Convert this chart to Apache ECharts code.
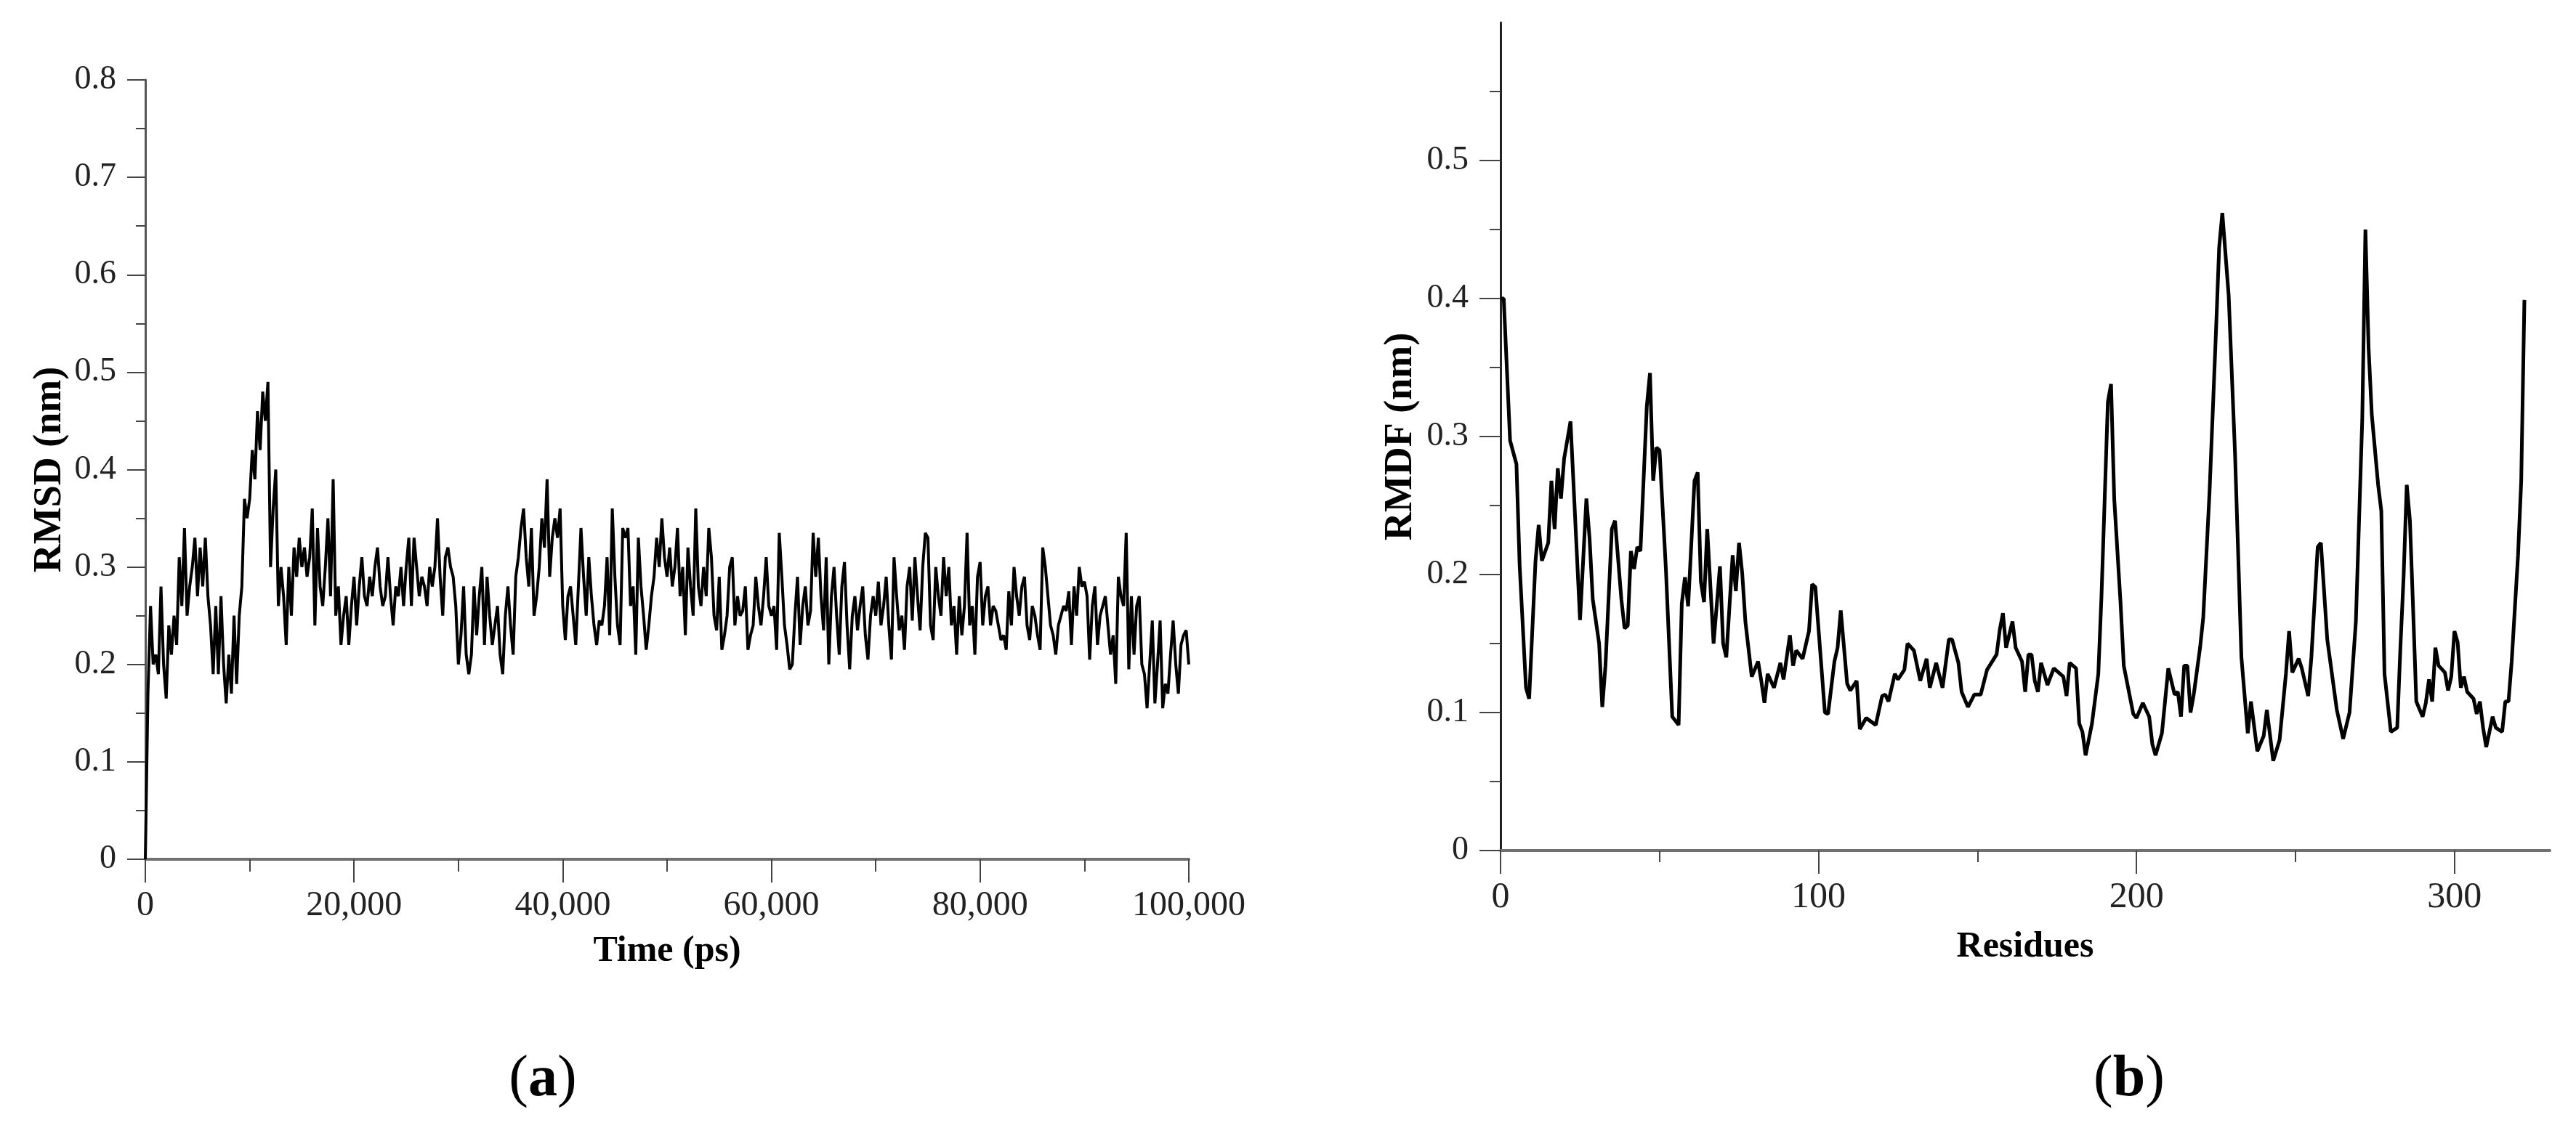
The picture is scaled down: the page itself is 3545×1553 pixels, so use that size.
<!DOCTYPE html>
<html><head><meta charset="utf-8">
<script src="https://cdn.jsdelivr.net/npm/echarts@6/dist/echarts.min.js"></script>
<style>html,body{margin:0;padding:0;background:#fff}#c{width:3545px;height:1553px}</style>
</head><body><div id="c"></div>
<script>
// ---- Panel (a): RMSD vs time, one value every 250 ps from 0 to 100,000 ps ----
const rmsdStepPs = 250;
const rmsdValues = [
0,0.17,0.26,0.20, 0.21,0.19,0.28,0.20, 0.165,0.24,0.21,0.25, 0.22,0.31,0.26,0.34,
0.25,0.28,0.30,0.33, 0.27,0.32,0.28,0.33, 0.27,0.24,0.19,0.26, 0.19,0.27,0.20,0.16,
0.21,0.17,0.25,0.18, 0.25,0.28,0.37,0.35, 0.37,0.42,0.39,0.46, 0.42,0.48,0.45,0.49,
0.30,0.36,0.40,0.26, 0.30,0.27,0.22,0.30, 0.25,0.32,0.29,0.33, 0.30,0.32,0.29,0.31,
0.36,0.24,0.34,0.28, 0.26,0.30,0.35,0.27, 0.39,0.25,0.28,0.22, 0.25,0.27,0.22,0.26,
0.29,0.24,0.28,0.31, 0.27,0.26,0.29,0.27, 0.30,0.32,0.28,0.26, 0.27,0.31,0.27,0.24,
0.28,0.27,0.30,0.26, 0.30,0.33,0.26,0.33, 0.30,0.27,0.29,0.28, 0.26,0.30,0.28,0.30,
0.35,0.29,0.25,0.31, 0.32,0.30,0.29,0.26, 0.20,0.23,0.28,0.21, 0.19,0.21,0.28,0.23,
0.27,0.30,0.22,0.29, 0.25,0.22,0.24,0.26, 0.21,0.19,0.25,0.28, 0.24,0.21,0.29,0.31,
0.34,0.36,0.31,0.28, 0.34,0.25,0.27,0.30, 0.35,0.32,0.39,0.29, 0.33,0.35,0.33,0.36,
0.26,0.225,0.27,0.28, 0.25,0.22,0.28,0.34, 0.29,0.25,0.31,0.27, 0.24,0.22,0.245,0.24,
0.26,0.31,0.23,0.36, 0.29,0.24,0.22,0.34, 0.33,0.34,0.26,0.28, 0.21,0.33,0.28,0.25,
0.215,0.24,0.27,0.29, 0.33,0.30,0.35,0.31, 0.29,0.32,0.28,0.30, 0.34,0.27,0.30,0.23,
0.32,0.28,0.25,0.36, 0.28,0.26,0.30,0.27, 0.34,0.31,0.25,0.235, 0.29,0.215,0.23,0.25,
0.30,0.31,0.24,0.27, 0.25,0.255,0.28,0.215, 0.23,0.24,0.29,0.26, 0.24,0.27,0.31,0.26,
0.25,0.26,0.215,0.335, 0.29,0.24,0.22,0.195, 0.20,0.25,0.29,0.22, 0.26,0.28,0.24,0.255,
0.335,0.29,0.33,0.27, 0.235,0.31,0.20,0.27, 0.30,0.25,0.21,0.28, 0.305,0.24,0.195,0.25,
0.27,0.235,0.26,0.28, 0.23,0.205,0.25,0.27, 0.25,0.285,0.24,0.26, 0.29,0.24,0.205,0.31,
0.27,0.235,0.25,0.215, 0.28,0.30,0.245,0.31, 0.27,0.235,0.30,0.335, 0.33,0.24,0.225,0.30,
0.27,0.25,0.31,0.27, 0.30,0.24,0.26,0.21, 0.27,0.23,0.26,0.335, 0.24,0.26,0.21,0.29,
0.305,0.24,0.27,0.28, 0.24,0.26,0.255,0.24, 0.225,0.23,0.215,0.275, 0.24,0.30,0.27,0.25,
0.28,0.29,0.24,0.225, 0.26,0.25,0.23,0.215, 0.32,0.30,0.27,0.24, 0.23,0.21,0.24,0.25,
0.26,0.255,0.275,0.22, 0.28,0.25,0.30,0.28, 0.285,0.27,0.205,0.26, 0.28,0.22,0.25,0.26,
0.27,0.24,0.21,0.23, 0.18,0.29,0.27,0.26, 0.335,0.195,0.27,0.21, 0.26,0.27,0.20,0.19,
0.155,0.20,0.245,0.16, 0.20,0.245,0.155,0.18, 0.17,0.21,0.245,0.20, 0.17,0.22,0.23,0.235,
0.20
];
const rmsdXTickLabels = ['0','20,000','40,000','60,000','80,000','100,000'];
const rmsdYTickLabels = ['0','0.1','0.2','0.3','0.4','0.5','0.6','0.7','0.8'];

// ---- Panel (b): RMDF per residue ----
const rmdfResidues = [
0,1,3,5,6,8,9,11,12,13,15,16,17,18,19,20,22,25,27,28,29,31,32,33,35,36,38,39,40,41,42,43,44,
46,47,48,49,50,52,54,56,57,58,59,61,62,63,64,65,67,69,70,71,73,74,75,76,77,79,81,82,83,84,86,
88,89,91,92,93,95,97,98,99,102,103,105,106,107,109,110,112,113,115,118,120,121,122,124,125,127,
128,130,132,134,135,137,139,141,142,144,145,147,149,151,153,156,157,158,159,161,162,164,165,166,
167,168,169,170,172,174,177,178,179,181,182,183,184,186,188,189,191,192,193,195,196,199,200,202,
204,205,206,208,210,212,213,214,215,216,217,218,220,221,223,225,226,227,229,231,233,235,236,238,
240,241,243,245,247,248,249,251,252,254,255,257,258,260,261,263,265,267,269,271,272,273,274,276,
277,278,280,282,283,284,285,286,287,288,290,291,292,293,294,295,297,298,299,300,301,302,303,304,
306,307,308,309,310,312,313,315,316,317,318,320,321,322
];
const rmdfValues = [
0.40,0.40,0.297,0.28,0.207,0.118,0.11,0.21,0.236,0.21,0.223,0.268,0.233,0.277,0.255,0.284,0.311,
0.167,0.255,0.226,0.182,0.15,0.104,0.134,0.233,0.239,0.182,0.161,0.163,0.217,0.204,0.22,0.217,
0.322,0.346,0.268,0.292,0.29,0.204,0.097,0.091,0.179,0.198,0.177,0.268,0.274,0.195,0.18,0.233,
0.15,0.206,0.15,0.14,0.214,0.188,0.223,0.201,0.166,0.126,0.137,0.123,0.107,0.128,0.118,
0.136,0.124,0.156,0.134,0.145,0.139,0.159,0.193,0.191,0.10,0.099,0.137,0.147,0.174,0.121,0.116,
0.123,0.088,0.096,0.091,0.112,0.113,0.108,0.128,0.124,0.131,
0.15,0.145,0.123,0.139,0.118,0.136,0.118,0.153,0.153,0.136,0.115,0.104,0.113,0.113,0.131,0.142,
0.16,0.172,0.147,0.166,0.147,0.137,0.115,0.142,
0.142,0.123,0.115,0.136,0.12,0.132,0.126,0.112,0.136,0.132,0.092,0.086,0.069,0.092,0.128,0.185,
0.325,0.338,0.255,0.179,0.134,0.099,0.096,0.107,
0.097,0.077,0.069,0.085,0.132,0.113,0.115,0.097,0.134,0.134,0.10,0.113,0.147,0.169,0.261,0.376,
0.437,0.462,0.402,0.287,0.14,0.085,0.108,0.072,
0.083,0.102,0.065,0.08,0.128,0.159,0.129,0.139,0.132,0.112,0.14,0.22,0.223,0.153,0.136,0.102,
0.081,0.10,0.166,0.312,0.45,0.364,0.316,0.265,
0.246,0.128,0.086,0.089,0.147,0.198,0.265,0.239,0.175,0.108,0.097,0.107,0.124,0.108,0.147,0.134,
0.129,0.116,0.126,0.159,0.151,0.118,0.126,0.115,
0.11,0.099,0.108,0.089,0.075,0.097,0.089,0.086,0.108,0.108,0.137,0.214,0.268,0.399
];
const rmdfXTickLabels = ['0','100','200','300'];
const rmdfYTickValues = [0,0.1,0.2,0.3,0.4,0.5];

const rmsdData = rmsdValues.map((v, i) => [i * rmsdStepPs, v]);
const rmdfData = rmdfResidues.map((r, i) => [r, rmdfValues[i]]);

const SERIF = '"Liberation Serif","Times New Roman",serif';
const tickLine = {color: '#444', width: 2};
const labelStyle = (size) => ({fontFamily: SERIF, fontSize: size, color: '#222'});
const nameStyle = (size) => ({fontFamily: SERIF, fontSize: size, fontWeight: 'bold', color: '#000'});

const chart = echarts.init(document.getElementById('c'), null, {renderer: 'canvas'});
chart.setOption({
  animation: false,
  backgroundColor: '#fff',
  grid: [
    {left: 200, top: 110, width: 1436, height: 1073, containLabel: false},
    {left: 2065, top: 31, width: 1444, height: 1140, containLabel: false}
  ],
  xAxis: [
    {
      gridIndex: 0, type: 'value', min: 0, max: 100000, interval: 20000,
      axisLine: {lineStyle: {color: '#707070', width: 4}},
      axisTick: {length: 32, lineStyle: tickLine},
      minorTick: {show: true, splitNumber: 2, length: 17, lineStyle: tickLine},
      splitLine: {show: false},
      axisLabel: Object.assign({margin: 40, formatter: (v) => rmsdXTickLabels[Math.round(v / 20000)]}, labelStyle(48)),
      name: 'Time (ps)', nameLocation: 'middle', nameGap: 102, nameTextStyle: nameStyle(50)
    },
    {
      gridIndex: 1, type: 'value', min: 0, max: 330, interval: 100,
      axisLine: {lineStyle: {color: '#707070', width: 4}},
      axisTick: {length: 32, lineStyle: tickLine, customValues: [0, 100, 200, 300]},
      axisLabel: Object.assign({margin: 40, customValues: [0, 100, 200, 300],
        formatter: (v) => rmdfXTickLabels[Math.round(v / 100)]}, labelStyle(50)),
      minorTick: {show: true, splitNumber: 2, length: 16, lineStyle: tickLine},
      splitLine: {show: false},
      name: 'Residues', nameLocation: 'middle', nameGap: 108, nameTextStyle: nameStyle(50)
    }
  ],
  yAxis: [
    {
      gridIndex: 0, type: 'value', min: 0, max: 0.8, interval: 0.1,
      axisLine: {show: true, lineStyle: {color: '#555', width: 3}},
      axisTick: {show: true, length: 25, lineStyle: tickLine},
      minorTick: {show: true, splitNumber: 2, length: 13, lineStyle: tickLine},
      splitLine: {show: false},
      axisLabel: Object.assign({margin: 40, formatter: (v) => rmsdYTickLabels[Math.round(v * 10)]}, labelStyle(46)),
      name: 'RMSD (nm)', nameLocation: 'middle', nameGap: 104, nameTextStyle: nameStyle(54)
    },
    {
      gridIndex: 1, type: 'value', min: 0, max: 0.6, interval: 0.1,
      axisLine: {show: true, lineStyle: {color: '#222', width: 3}},
      axisTick: {show: true, length: 29, lineStyle: tickLine, customValues: rmdfYTickValues},
      minorTick: {show: true, splitNumber: 2, length: 15, lineStyle: tickLine},
      splitLine: {show: false},
      axisLabel: Object.assign({margin: 44, customValues: rmdfYTickValues,
        formatter: (v) => String(Math.round(v * 10) / 10)}, labelStyle(46)),
      name: 'RMDF (nm)', nameLocation: 'middle', nameGap: 110, nameTextStyle: nameStyle(54)
    }
  ],
  series: [
    {type: 'line', xAxisIndex: 0, yAxisIndex: 0, data: rmsdData, showSymbol: false, symbol: 'none',
     lineStyle: {color: '#000', width: 4}, silent: true},
    {type: 'line', xAxisIndex: 1, yAxisIndex: 1, data: rmdfData, showSymbol: false, symbol: 'none',
     lineStyle: {color: '#000', width: 5}, silent: true}
  ],
  graphic: [
    {type: 'text', x: 747, y: 1487, style: {
      text: '{p|(}{b|a}{p|)}', align: 'center', verticalAlign: 'middle',
      rich: {p: {fontFamily: SERIF, fontSize: 80, fill: '#000'}, b: {fontFamily: SERIF, fontSize: 80, fontWeight: 'bold', fill: '#000'}}
    }},
    {type: 'text', x: 2930, y: 1487, style: {
      text: '{p|(}{b|b}{p|)}', align: 'center', verticalAlign: 'middle',
      rich: {p: {fontFamily: SERIF, fontSize: 80, fill: '#000'}, b: {fontFamily: SERIF, fontSize: 80, fontWeight: 'bold', fill: '#000'}}
    }}
  ]
});
</script>
</body></html>
